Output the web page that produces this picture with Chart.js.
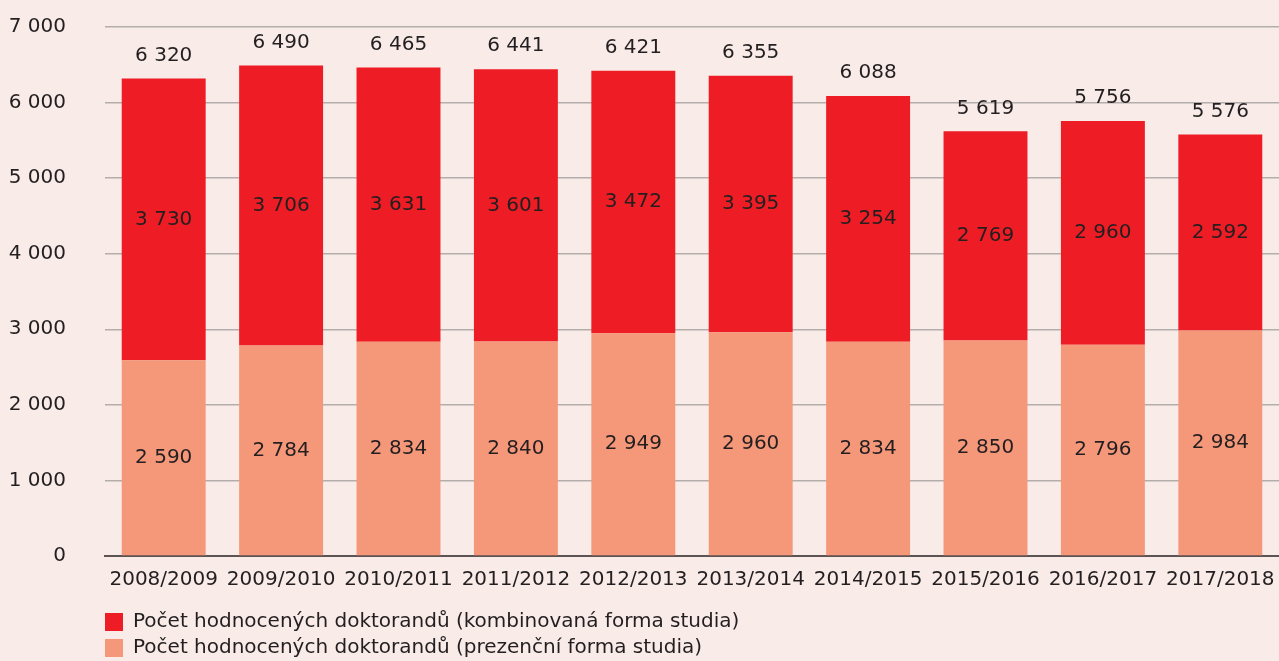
<!DOCTYPE html>
<html>
<head>
<meta charset="utf-8">
<script src="https://cdn.jsdelivr.net/npm/chart.js@4"></script>
<style>
html,body{margin:0;padding:0;background:#f9ebe8;}
#wrap{width:1279px;height:661px;position:relative;}
</style>
</head>
<body>
<div id="wrap"><canvas id="c" width="1279" height="661"></canvas></div>
<script>
const years = ['2008/2009','2009/2010','2010/2011','2011/2012','2012/2013','2013/2014','2014/2015','2015/2016','2016/2017','2017/2018'];
const prezencni = [2590, 2784, 2834, 2840, 2949, 2960, 2834, 2850, 2796, 2984];
const kombinovana = [3730, 3706, 3631, 3601, 3472, 3395, 3254, 2769, 2960, 2592];
const totals = [6320, 6490, 6465, 6441, 6421, 6355, 6088, 5619, 5756, 5576];
const yTicks = [0, 1000, 2000, 3000, 4000, 5000, 6000, 7000];
const labelKomb = 'Počet hodnocených doktorandů (kombinovaná forma studia)';
const labelPrez = 'Počet hodnocených doktorandů (prezenční forma studia)';

const FONT = '"DejaVu Sans", sans-serif';
const FS = 20;
const TXT = '#231f20';
const fmt = v => String(v).replace(/\B(?=(\d{3})+(?!\d))/g, ' ');

const labelPlugin = {
  id: 'labels',
  afterLayout(chart) {
    const lg = chart.legend;
    if (lg) {
      const p = chart.options.plugins.legend.labels.padding;
      lg.left -= p; lg.right -= p;
    }
  },
  afterDatasetsDraw(chart) {
    const ctx = chart.ctx;
    ctx.save();
    ctx.font = FS + 'px ' + FONT;
    ctx.fillStyle = TXT;
    ctx.textAlign = 'center';
    ctx.textBaseline = 'middle';
    chart.data.datasets.forEach((ds, di) => {
      const meta = chart.getDatasetMeta(di);
      meta.data.forEach((bar, i) => {
        const mid = (bar.y + bar.base) / 2;
        ctx.fillText(fmt(ds.data[i]), bar.x, mid);
      });
    });
    const topMeta = chart.getDatasetMeta(1);
    topMeta.data.forEach((bar, i) => {
      ctx.fillText(fmt(totals[i]), bar.x, bar.y - 23);
    });
    ctx.restore();
  }
};

new Chart(document.getElementById('c'), {
  type: 'bar',
  data: {
    labels: years,
    datasets: [
      { label: labelPrez, data: prezencni, backgroundColor: '#f5987a', borderWidth: 0 },
      { label: labelKomb, data: kombinovana, backgroundColor: '#ee1d25', borderWidth: 0 }
    ]
  },
  options: {
    responsive: false,
    animation: false,
    events: [],
    layout: { padding: { top: 27, right: 0, left: 0, bottom: -7 } },
    datasets: { bar: { categoryPercentage: 1, barPercentage: 0.715 } },
    scales: {
      x: {
        stacked: true,
        grid: { display: false, drawTicks: false },
        border: { display: true, color: '#5d5353', width: 2 },
        ticks: { color: TXT, font: { family: FONT, size: FS }, padding: 12, maxRotation: 0 },
        afterFit(scale) { scale.height = 50; scale.paddingLeft = 0; scale.paddingRight = 0; }
      },
      y: {
        stacked: true,
        min: 0, max: 7000,
        afterBuildTicks(scale) { scale.ticks = yTicks.map(v => ({ value: v })); },
        afterFit(scale) { scale.width = 105; },
        grid: { color: '#b3adab', lineWidth: 1.5, drawTicks: true, tickLength: 39, tickColor: 'rgba(0,0,0,0)' },
        border: { display: false },
        ticks: { color: TXT, font: { family: FONT, size: FS }, padding: 0, callback: v => fmt(v) }
      }
    },
    plugins: {
      tooltip: { enabled: false },
      legend: {
        position: 'bottom',
        align: 'start',
        fullSize: false,
        reverse: true,
        labels: {
          color: TXT,
          font: { family: FONT, size: FS },
          boxWidth: 18,
          boxHeight: 18,
          padding: 6
        }
      }
    }
  },
  plugins: [labelPlugin]
});
</script>
</body>
</html>
